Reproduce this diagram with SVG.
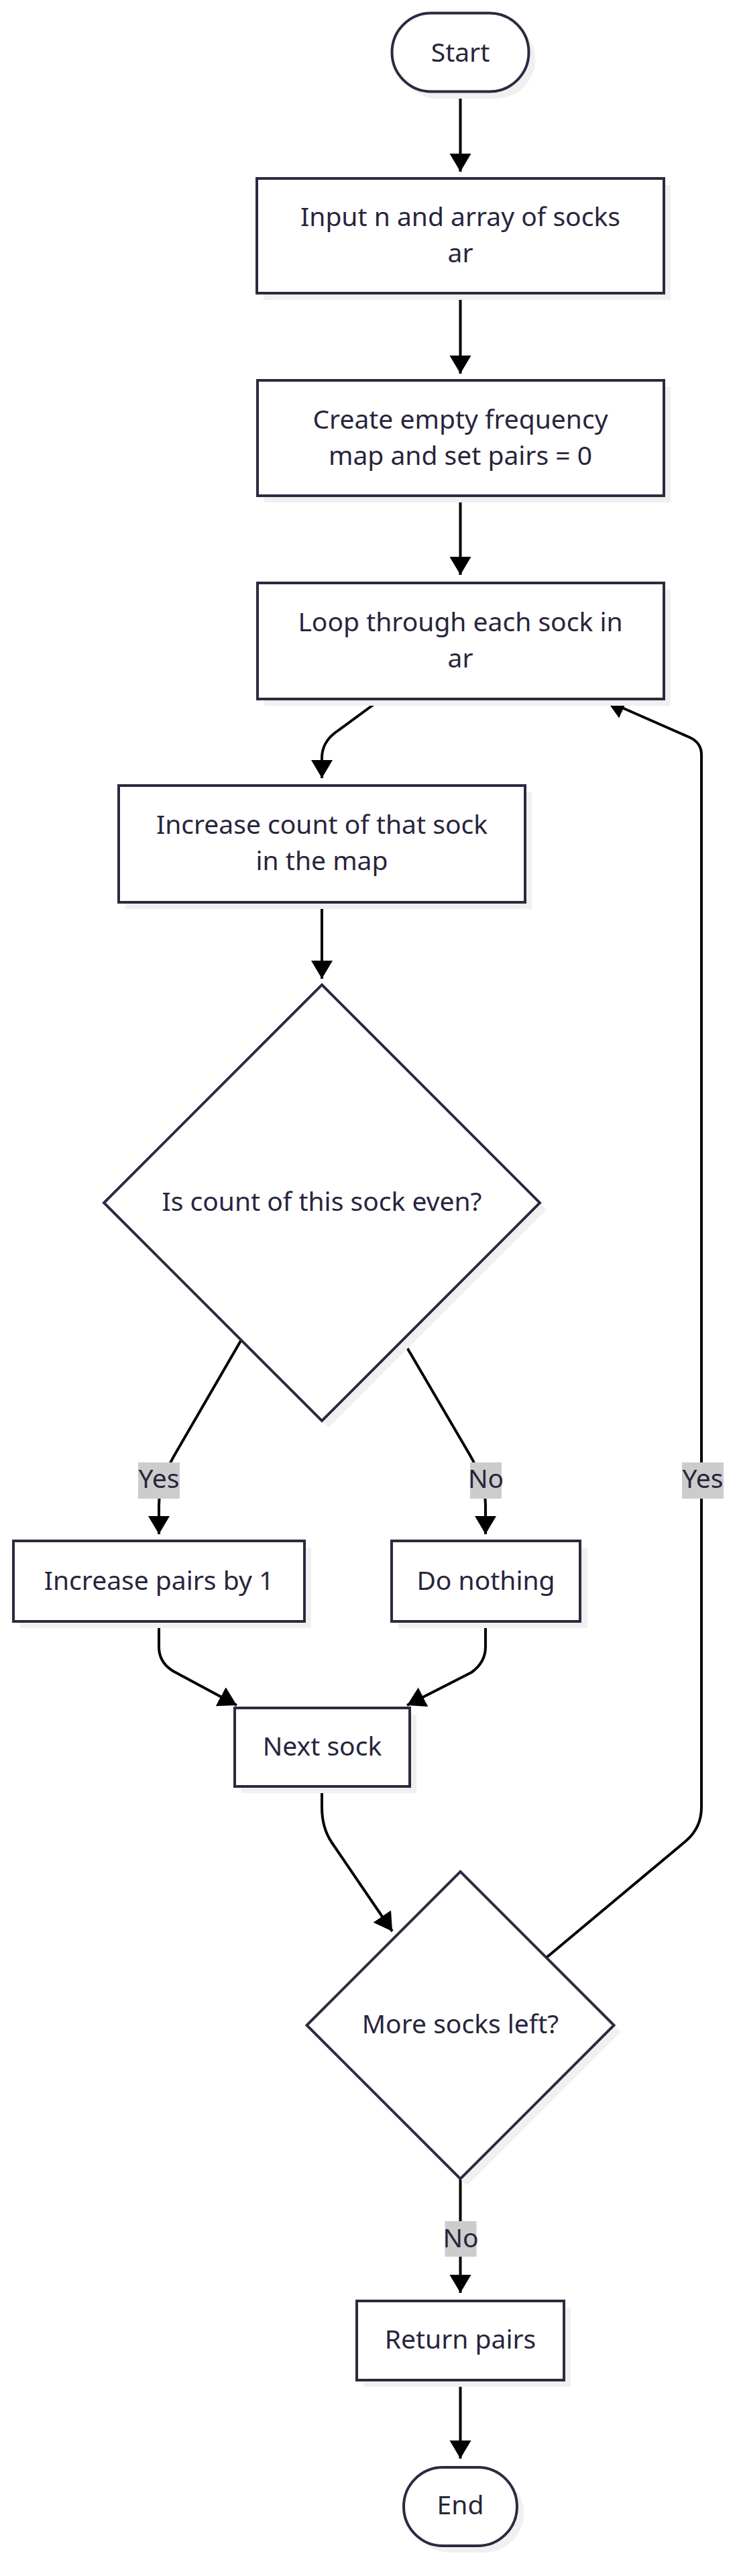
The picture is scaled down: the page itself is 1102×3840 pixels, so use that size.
<svg xmlns="http://www.w3.org/2000/svg" width="1102" height="3840" viewBox="0 0 1102 3840">
<defs>
<style>
.sh{fill:#f0f0f0;stroke:none}
.nd{fill:#ffffff;stroke:#2b2a40;stroke-width:4}
.t{font-family:"Noto Sans","Open Sans","DejaVu Sans",sans-serif;font-size:39px;fill:#28253d;text-anchor:middle}
.e{fill:none;stroke:#000000;stroke-width:4}
.lb{fill:#cccccc}
</style>
<marker id="ah" markerUnits="userSpaceOnUse" markerWidth="30" markerHeight="34" refX="27" refY="16" orient="auto" viewBox="0 0 30 34">
<path d="M0,0 L27,16 L0,32 z" fill="#000000"/>
</marker>
</defs>
<rect width="1102" height="3840" fill="#ffffff"/>

<g id="connectors">
<path class="e" marker-end="url(#ah)" d="M686.5,137 L686.5,256"/>
<path class="e" marker-end="url(#ah)" d="M686.5,437 L686.5,557"/>
<path class="e" marker-end="url(#ah)" d="M686.5,739 L686.5,857"/>
<path class="e" marker-end="url(#ah)" d="M567,1043 L500,1092 Q480,1107 480,1130 L480,1160"/>
<path class="e" marker-end="url(#ah)" d="M480,1345 L480,1459"/>
<path class="e" marker-end="url(#ah)" d="M360,1997 L262,2166 Q237,2208 237,2245 L237,2287"/>
<path class="e" marker-end="url(#ah)" d="M600,1997 L699,2166 Q724,2208 724,2245 L724,2287"/>
<path class="e" marker-end="url(#ah)" d="M237,2417 L237,2455 Q237,2478 258,2491 L353,2542"/>
<path class="e" marker-end="url(#ah)" d="M724,2417 L724,2455 Q724,2478 703,2493 L607,2542"/>
<path class="e" marker-end="url(#ah)" d="M480,2663 L480,2694 Q480,2725 495,2747 L585,2879"/>
<path class="e" marker-end="url(#ah)" d="M815,2918 L1022,2745 Q1046,2725 1046,2694 L1046,1125 Q1046,1107 1028,1099 L905,1045"/>
<path class="e" marker-end="url(#ah)" d="M686.5,3248 L686.5,3418"/>
<path class="e" marker-end="url(#ah)" d="M686.5,3548 L686.5,3665"/>
<g id="edge-labels">
<rect class="lb" x="206" y="2180" width="62" height="54"/>
<text class="t" x="237" y="2218">Yes</text>
<rect class="lb" x="701" y="2180" width="47" height="54"/>
<text class="t" x="724.5" y="2218">No</text>
<rect class="lb" x="1017" y="2180" width="62" height="54"/>
<text class="t" x="1048" y="2218">Yes</text>
<rect class="lb" x="663.5" y="3311" width="47" height="53"/>
<text class="t" x="687" y="3350">No</text>
</g>
</g>

<g id="start">
<rect class="sh" x="594" y="30" width="204" height="117" rx="58.5"/>
<rect class="nd" x="584.5" y="19.5" width="204" height="117" rx="58.5"/>
<text class="t" x="686.5" y="91.5">Start</text>
</g>
<g id="input">
<rect class="sh" x="393" y="276" width="607" height="171"/>
<rect class="nd" x="383" y="266" width="607" height="171"/>
<text class="t" x="686.5" y="337">Input n and array of socks</text>
<text class="t" x="686.5" y="391">ar</text>
</g>
<g id="create">
<rect class="sh" x="394" y="577" width="606" height="172"/>
<rect class="nd" x="384" y="567" width="606" height="172"/>
<text class="t" x="686.5" y="639">Create empty frequency</text>
<text class="t" x="686.5" y="693">map and set pairs = 0</text>
</g>
<g id="loop">
<rect class="sh" x="394" y="879" width="606" height="173"/>
<rect class="nd" x="384" y="869" width="606" height="173"/>
<text class="t" x="686.5" y="941">Loop through each sock in</text>
<text class="t" x="686.5" y="995">ar</text>
</g>
<g id="increase-count">
<rect class="sh" x="187" y="1181" width="606" height="174"/>
<rect class="nd" x="177" y="1171" width="606" height="174"/>
<text class="t" x="480" y="1243">Increase count of that sock</text>
<text class="t" x="480" y="1297">in the map</text>
</g>
<g id="is-even">
<polygon class="sh" points="490,1478 815,1803 490,2128 165,1803"/>
<polygon class="nd" points="480,1468 805,1793 480,2118 155,1793"/>
<text class="t" x="480" y="1805">Is count of this sock even?</text>
</g>
<g id="increase-pairs">
<rect class="sh" x="30" y="2307" width="434" height="120"/>
<rect class="nd" x="20" y="2297" width="434" height="120"/>
<text class="t" x="237" y="2370">Increase pairs by 1</text>
</g>
<g id="do-nothing">
<rect class="sh" x="594" y="2307" width="282" height="120"/>
<rect class="nd" x="584" y="2297" width="281" height="120"/>
<text class="t" x="724.5" y="2370">Do nothing</text>
</g>
<g id="next-sock">
<rect class="sh" x="360" y="2556" width="261" height="117"/>
<rect class="nd" x="350" y="2546" width="261" height="117"/>
<text class="t" x="480.5" y="2617">Next sock</text>
</g>
<g id="more-socks">
<polygon class="sh" points="696.5,2800 925.5,3029 696.5,3258 467.5,3029"/>
<polygon class="nd" points="686.5,2790 915.5,3019 686.5,3248 457.5,3019"/>
<text class="t" x="686.5" y="3031">More socks left?</text>
</g>
<g id="return-pairs">
<rect class="sh" x="542" y="3440" width="309" height="118"/>
<rect class="nd" x="532" y="3430" width="309" height="118"/>
<text class="t" x="686.5" y="3501">Return pairs</text>
</g>
<g id="end">
<rect class="sh" x="612" y="3688" width="169" height="117" rx="58.5"/>
<rect class="nd" x="602" y="3678" width="169" height="117" rx="58.5"/>
<text class="t" x="686.5" y="3748">End</text>
</g>
</svg>
